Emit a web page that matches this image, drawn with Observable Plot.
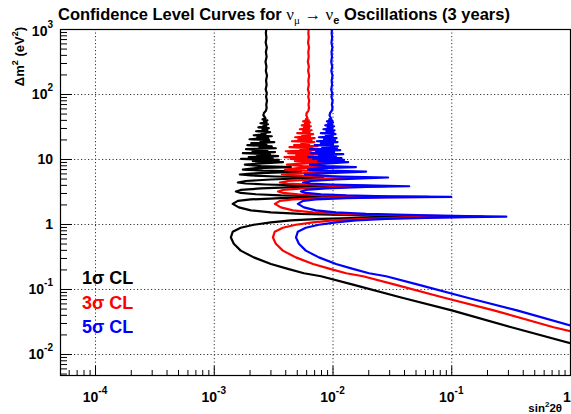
<!DOCTYPE html>
<html><head><meta charset="utf-8">
<script src="https://cdn.jsdelivr.net/npm/d3@7"></script>
<script src="https://cdn.jsdelivr.net/npm/@observablehq/plot@0.6"></script>
<style>
html,body{margin:0;padding:0;background:#fff;}
#chart svg{display:block;}
</style></head><body><div id="chart"></div>
<script>
// 1 sigma CL curve: [sin^2 2theta, delta m^2 (eV^2)]
const cl1 = [[1.0,0.0149],[0.318,0.0262],[0.100,0.0477],[0.0375,0.0754],[0.0150,0.118],[0.00792,0.160],[0.00569,0.178],[0.00417,0.2075],[0.00300,0.247],[0.00215,0.312],[0.00167,0.396],[0.00146,0.506],[0.00138,0.632],[0.00143,0.773],[0.00167,0.890],[0.00215,0.990],[0.00300,1.081],[0.00442,1.160],[0.00792,1.223],[0.0172,1.266],[0.0375,1.298],[0.0815,1.321],[0.0375,1.349],[0.0142,1.393],[0.00537,1.458],[0.00300,1.538],[0.00203,1.650],[0.00161,1.834],[0.00143,2.075],[0.00158,2.307],[0.00203,2.432],[0.00364,2.537],[0.00792,2.609],[0.0280,2.656],[0.00792,2.703],[0.00364,2.801],[0.00224,2.922],[0.00167,3.058],[0.00152,3.225],[0.00167,3.400],[0.00247,3.584],[0.00537,3.779],[0.0124,3.873],[0.00537,3.984],[0.00272,4.127],[0.00184,4.275],[0.00158,4.429],[0.00184,4.669],[0.00300,4.922],[0.00823,5.282],[0.00330,5.472],[0.00203,5.668],[0.00164,5.872],[0.00203,6.083],[0.00537,6.527],[0.00257,6.761],[0.00174,7.004],[0.00224,7.384],[0.00442,7.649],[0.00247,7.924],[0.00181,8.354],[0.00379,9.124],[0.00211,9.452],[0.00350,9.860],
[0.00168,10.2],[0.00310,10.5],[0.00195,10.9],[0.00345,11.3],[0.00230,11.7],[0.00295,12.1],[0.00174,12.5],[0.00325,13.0],[0.00210,13.4],[0.00280,13.9],[0.00185,14.4],[0.00330,14.9],[0.00240,15.5],[0.00305,16.0],[0.00190,16.6],[0.00275,17.2],[0.00205,17.8],[0.00320,18.5],[0.00245,19.1],[0.00290,19.8],[0.00198,20.5],[0.00285,21.3],[0.00230,22.0],[0.00305,22.8],[0.00215,23.6],[0.00270,24.5],[0.00250,25.4],[0.00295,26.3],[0.00225,27.2],[0.00280,28.2],[0.00255,29.2],[0.00288,30.3],[0.00235,31.3],[0.00274,32.5],[0.00260,33.6],[0.00283,34.8],[0.00245,36.1],[0.00276,37.4],[0.00262,38.7],[0.00280,40.1],[0.00255,41.5],[0.00270,43.0],
[0.00266,45],[0.00259,48],[0.00262,52],[0.00272,56],[0.00276,62],[0.00274,70],[0.00278,80],[0.00273,92],[0.00277,105],[0.00271,120],[0.00276,140],[0.00273,165],[0.00278,195],[0.00272,230],[0.00275,270],[0.00270,320],[0.00276,380],[0.00272,450],[0.00277,530],[0.00271,630],[0.00275,750],[0.00272,880],[0.00274,1000]];

// 3 sigma CL curve
const cl3 = [[1.0,0.0227],[0.72,0.0262],[0.226,0.0477],[0.0848,0.0754],[0.0339,0.118],[0.0179,0.160],[0.0129,0.178],[0.00943,0.2075],[0.00679,0.247],[0.00486,0.312],[0.00378,0.396],[0.00330,0.506],[0.00312,0.632],[0.00323,0.773],[0.00378,0.890],[0.00486,0.990],[0.00679,1.081],[0.0100,1.160],[0.0179,1.223],[0.0389,1.266],[0.0848,1.298],[0.184,1.321],[0.0848,1.349],[0.0321,1.393],[0.0121,1.458],[0.00679,1.538],[0.00459,1.650],[0.00364,1.834],[0.00324,2.075],[0.00357,2.307],[0.00459,2.432],[0.00823,2.537],[0.0179,2.609],[0.0634,2.656],[0.0179,2.703],[0.00823,2.801],[0.00507,2.922],[0.00378,3.058],[0.00344,3.225],[0.00378,3.400],[0.00559,3.584],[0.0121,3.779],[0.0280,3.873],[0.0121,3.984],[0.00615,4.127],[0.00416,4.275],[0.00357,4.429],[0.00416,4.669],[0.00679,4.922],[0.0186,5.282],[0.00746,5.472],[0.00459,5.668],[0.00371,5.872],[0.00459,6.083],[0.0121,6.527],[0.00581,6.761],[0.00394,7.004],[0.00507,7.384],[0.0100,7.649],[0.00559,7.924],[0.00409,8.354],[0.00857,9.124],[0.00477,9.452],[0.00792,9.860],
[0.00440,10.2],[0.00760,10.5],[0.00390,10.9],[0.00680,11.3],[0.00490,11.7],[0.00780,12.1],[0.00420,12.5],[0.00650,13.0],[0.00400,13.4],[0.00720,13.9],[0.00530,14.4],[0.00670,14.9],[0.00430,15.5],[0.00740,16.0],[0.00470,16.6],[0.00630,17.2],[0.00540,17.8],[0.00695,18.5],[0.00450,19.1],[0.00660,19.8],[0.00510,20.5],[0.00700,21.3],[0.00480,22.0],[0.00640,22.8],[0.00550,23.6],[0.00680,24.5],[0.00500,25.4],[0.00635,26.3],[0.00560,27.2],[0.00660,28.2],[0.00525,29.2],[0.00630,30.3],[0.00570,31.3],[0.00650,32.5],[0.00545,33.6],[0.00628,34.8],[0.00580,36.1],[0.00640,37.4],[0.00560,38.7],[0.00625,40.1],[0.00590,41.5],[0.00610,43.0],
[0.00605,45],[0.00595,48],[0.00600,52],[0.00620,56],[0.00628,62],[0.00622,70],[0.00630,80],[0.00618,92],[0.00627,105],[0.00615,120],[0.00625,140],[0.00620,165],[0.00630,195],[0.00617,230],[0.00626,270],[0.00614,320],[0.00624,380],[0.00619,450],[0.00628,530],[0.00616,630],[0.00625,750],[0.00620,880],[0.00623,1000]];

// 5 sigma CL curve
const cl5 = [[1.0,0.028],[0.354,0.0477],[0.133,0.0754],[0.0530,0.118],[0.0280,0.160],[0.0201,0.178],[0.0147,0.2075],[0.0106,0.247],[0.00760,0.312],[0.00590,0.396],[0.00516,0.506],[0.00488,0.632],[0.00505,0.773],[0.00590,0.890],[0.00760,0.990],[0.0106,1.081],[0.0156,1.160],[0.0280,1.223],[0.0608,1.266],[0.133,1.298],[0.288,1.321],[0.133,1.349],[0.0502,1.393],[0.0190,1.458],[0.0106,1.538],[0.00718,1.650],[0.00569,1.834],[0.00506,2.075],[0.00559,2.307],[0.00718,2.432],[0.0129,2.537],[0.0280,2.609],[0.0990,2.656],[0.0280,2.703],[0.0129,2.801],[0.00792,2.922],[0.00590,3.058],[0.00537,3.225],[0.00590,3.400],[0.00873,3.584],[0.0190,3.779],[0.0438,3.873],[0.0190,3.984],[0.00962,4.127],[0.00650,4.275],[0.00559,4.429],[0.00650,4.669],[0.0106,4.922],[0.0291,5.282],[0.0117,5.472],[0.00718,5.668],[0.00580,5.872],[0.00718,6.083],[0.0190,6.527],[0.00908,6.761],[0.00615,7.004],[0.00792,7.384],[0.0156,7.649],[0.00873,7.924],[0.00640,8.354],[0.0134,9.124],[0.00746,9.452],[0.0124,9.860],
[0.00680,10.2],[0.0118,10.5],[0.00620,10.9],[0.0106,11.3],[0.00760,11.7],[0.0122,12.1],[0.00650,12.5],[0.0102,13.0],[0.00720,13.4],[0.0115,13.9],[0.00640,14.4],[0.0108,14.9],[0.00810,15.5],[0.0110,16.0],[0.00700,16.6],[0.0100,17.2],[0.00790,17.8],[0.0109,18.5],[0.00730,19.1],[0.0104,19.8],[0.00840,20.5],[0.0107,21.3],[0.00760,22.0],[0.00995,22.8],[0.00870,23.6],[0.0105,24.5],[0.00790,25.4],[0.0101,26.3],[0.00880,27.2],[0.0103,28.2],[0.00830,29.2],[0.00990,30.3],[0.00900,31.3],[0.0102,32.5],[0.00860,33.6],[0.00985,34.8],[0.00910,36.1],[0.0100,37.4],[0.00890,38.7],[0.00980,40.1],[0.00930,41.5],[0.00965,43.0],
[0.00950,45],[0.00935,48],[0.00945,52],[0.00975,56],[0.00990,62],[0.00978,70],[0.00992,80],[0.00970,92],[0.00985,105],[0.00965,120],[0.00982,140],[0.00974,165],[0.00990,195],[0.00968,230],[0.00984,270],[0.00966,320],[0.00980,380],[0.00972,450],[0.00988,530],[0.00970,630],[0.00983,750],[0.00974,880],[0.00980,1000]];

const xTicks = [1e-4, 1e-3, 1e-2, 1e-1, 1];
const xTickLabels = [["10","-4"],["10","-3"],["10","-2"],["10","-1"],["1",""]];
const yTicks = [1e-2, 1e-1, 1, 10, 100, 1000];
const yTickLabels = [["10","-2"],["10","-1"],["1",""],["10",""],["10","2"],["10","3"]];
const legendLabels = ["1σ CL", "3σ CL", "5σ CL"];
const legendColors = ["#000000", "#ff0000", "#0000ff"];

const W = 571, H = 414, mL = 60, mR = 1, mT = 29, mB = 39;
const innerW = W - mL - mR, innerH = H - mT - mB;
const xDomain = [5.07e-5, 1], yDomain = [4.75e-3, 1000];
const isMajor = v => Math.abs(Math.log10(v) - Math.round(Math.log10(v))) < 1e-6;
const xMinor = d3.scaleLog().domain(xDomain).ticks().filter(v => !isMajor(v));
const yMinor = d3.scaleLog().domain(yDomain).ticks().filter(v => !isMajor(v));

const font = "'Liberation Sans', Arial, Helvetica, sans-serif";
const plot = Plot.plot({
  width: W, height: H,
  marginLeft: mL, marginRight: mR, marginTop: mT, marginBottom: mB,
  x: {type: "log", domain: xDomain, axis: null},
  y: {type: "log", domain: yDomain, axis: null},
  style: {fontFamily: font, background: "#fff", overflow: "visible"},
  marks: [
    Plot.ruleX(xTicks.slice(0, 4), {stroke: "#333", strokeWidth: 1, strokeDasharray: "1.2,2.3"}),
    Plot.ruleY(yTicks.slice(0, 5), {stroke: "#333", strokeWidth: 1, strokeDasharray: "1.2,2.3"}),
    Plot.line(cl1, {x: d => d[0], y: d => d[1], stroke: legendColors[0], strokeWidth: 2.2, clip: true}),
    Plot.line(cl3, {x: d => d[0], y: d => d[1], stroke: legendColors[1], strokeWidth: 2.2, clip: true}),
    Plot.line(cl5, {x: d => d[0], y: d => d[1], stroke: legendColors[2], strokeWidth: 2.2, clip: true}),
    Plot.ruleX(xMinor, {insetTop: innerH - 5, stroke: "#000"}),
    Plot.ruleX(xTicks, {insetTop: innerH - 9, stroke: "#000"}),
    Plot.ruleY(yMinor, {insetRight: innerW - 7, stroke: "#000"}),
    Plot.ruleY(yTicks, {insetRight: innerW - 12, stroke: "#000"}),
    Plot.frame({stroke: "#000", strokeWidth: 1.2})
  ]
});
document.getElementById("chart").appendChild(plot);

const svg = d3.select(plot);
const xs = plot.scale("x"), ys = plot.scale("y");

// x tick labels
xTicks.forEach((v, i) => {
  const [b, e] = xTickLabels[i];
  const t = svg.append("text")
    .attr("x", xs.apply(v) - (e ? 0 : 3)).attr("y", 402)
    .attr("text-anchor", "middle").attr("font-family", font)
    .attr("font-weight", "bold").attr("font-size", 14).attr("fill", "#000");
  t.append("tspan").text(b);
  if (e) t.append("tspan").attr("dy", -8).attr("font-size", 10).text(e);
});
// y tick labels
yTicks.forEach((v, i) => {
  const [b, e] = yTickLabels[i];
  const yy = ys.apply(v) + (v === 1000 ? 7 : 5);
  const t = svg.append("text")
    .attr("x", 53).attr("y", yy)
    .attr("text-anchor", "end").attr("font-family", font)
    .attr("font-weight", "bold").attr("font-size", 14).attr("fill", "#000");
  t.append("tspan").text(b);
  if (e) t.append("tspan").attr("dy", -8).attr("font-size", 10).text(e);
});

// title
const serif = "'Liberation Serif', 'DejaVu Serif', serif";
const title = svg.append("text").attr("x", 58).attr("y", 20).attr("text-anchor", "start")
  .attr("font-family", font).attr("font-weight", "bold").attr("font-size", 16.5).attr("fill", "#000");
title.append("tspan").text("Confidence Level Curves for ");
title.append("tspan").attr("font-weight", "normal").attr("font-family", serif).attr("font-size", 17).text("ν");
title.append("tspan").attr("dy", 4).attr("font-size", 11).attr("font-weight", "normal").attr("font-family", serif).text("μ");
title.append("tspan").attr("dy", -4).attr("font-weight", "normal").text(" → ");
title.append("tspan").attr("font-weight", "normal").attr("font-family", serif).attr("font-size", 17).text("ν");
title.append("tspan").attr("dy", 4).attr("font-size", 11).text("e");
title.append("tspan").attr("dy", -4).text(" Oscillations (3 years)");

// y axis title
const yt = svg.append("text").attr("transform", "translate(24,27) rotate(-90)")
  .attr("text-anchor", "end").attr("font-family", font).attr("font-weight", "bold")
  .attr("font-size", 13).attr("fill", "#000");
yt.append("tspan").text("Δm");
yt.append("tspan").attr("dy", -6).attr("font-size", 9).text("2");
yt.append("tspan").attr("dy", 6).text(" (eV");
yt.append("tspan").attr("dy", -6).attr("font-size", 9).text("2");
yt.append("tspan").attr("dy", 6).text(")");

// x axis title
const xt = svg.append("text").attr("x", 562).attr("y", 412)
  .attr("text-anchor", "end").attr("font-family", font).attr("font-weight", "bold")
  .attr("font-size", 11.5).attr("fill", "#000");
xt.append("tspan").text("sin");
xt.append("tspan").attr("dy", -5).attr("font-size", 8).text("2");
xt.append("tspan").attr("dy", 5).text("2θ");

// legend
legendLabels.forEach((lab, i) => {
  svg.append("text").attr("x", 82).attr("y", 284 + i * 24.5).attr("text-anchor", "start")
    .attr("font-family", font).attr("font-weight", "bold").attr("font-size", 18)
    .attr("fill", legendColors[i]).text(lab);
});
</script></body></html>
